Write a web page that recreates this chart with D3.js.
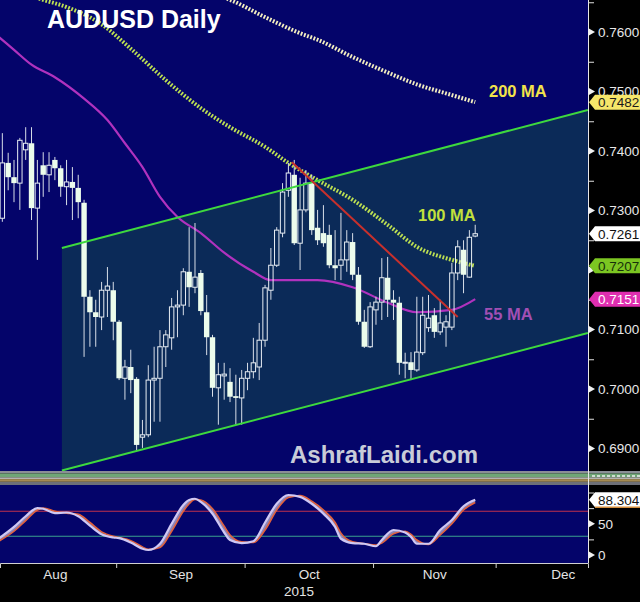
<!DOCTYPE html>
<html><head><meta charset="utf-8">
<script src="https://cdn.jsdelivr.net/npm/d3@7"></script>
<style>
html,body{margin:0;padding:0;background:#000;}
svg{display:block;}
text{font-family:"Liberation Sans",Arial,sans-serif;}
</style></head><body>
<svg id="c" width="640" height="602"></svg>
<script>
// ---------------- DATA ----------------
const tickPrices = [0.69,0.70,0.71,0.72,0.73,0.74,0.75,0.76];
const hiddenTickLabels = [0.72]; // covered by the 100 MA price box in the reference
const minorPrices = [0.6950,0.7050,0.7150,0.7250,0.7350,0.7450,0.7550,0.7650];
const monthNames = ["Aug","Sep","Oct","Nov","Dec"];
const yearLabel = "2015";

const open = [.7309,.7287,.7380,.7356,.7346,.7402,.7413,.7304,.7376,.7360,
.7385,.7371,.7340,.7348,.7338,.7313,.7155,.7129,.7121,.7166,
.7166,.7113,.7018,.7037,.7017,.6919,.6923,.7015,.7018,.7071,
.7086,.7138,.7141,.7197,.7171,.7195,.7129,.7087,.7002,.7022,
.7012,.6988,.6985,.7018,.7029,.7037,.7082,.7166,.7208,.7262,
.7334,.7360,.7245,.7301,.7346,.7271,.7262,.7259,.7208,.7208,
.7217,.7247,.7192,.7113,.7071,.7133,.7146,.7187,.7150,.7145,
.7044,.7045,.7032,.7061,.7103,.7124,.7096,.7104,.7104,.7195,
.7234,.7188,.7257];
const high = [.7430,.7430,.7397,.7385,.7422,.7440,.7440,.7385,.7398,.7398,
.7390,.7376,.7385,.7373,.7360,.7318,.7166,.7150,.7180,.7205,
.7180,.7116,.7049,.7066,.7020,.6948,.7040,.7071,.7099,.7099,
.7153,.7166,.7203,.7272,.7279,.7200,.7158,.7091,.7044,.7044,
.7035,.7024,.7032,.7044,.7086,.7111,.7175,.7237,.7272,.7346,
.7380,.7385,.7355,.7368,.7360,.7301,.7309,.7276,.7267,.7296,
.7267,.7262,.7205,.7133,.7146,.7155,.7220,.7222,.7166,.7155,
.7061,.7062,.7155,.7155,.7158,.7136,.7150,.7124,.7212,.7250,
.7250,.7267,.7276];
const low = [.7267,.7281,.7334,.7314,.7301,.7385,.7284,.7217,.7323,.7331,
.7351,.7323,.7309,.7284,.7287,.7054,.7071,.7071,.7099,.7121,
.7082,.7015,.6982,.6993,.6897,.6901,.6919,.6945,.6945,.7037,
.7066,.7087,.7124,.7138,.7161,.7124,.7057,.6987,.6940,.6982,
.6978,.6940,.6940,.6998,.7018,.7015,.7071,.7150,.7205,.7255,
.7323,.7242,.7200,.7297,.7259,.7242,.7239,.7203,.7183,.7183,
.7197,.7183,.7108,.7069,.7069,.7108,.7116,.7121,.7116,.7024,
.7018,.7015,.7029,.7057,.7096,.7086,.7091,.7071,.7099,.7183,
.7161,.7187,.7255];
const close = [.7287,.7380,.7356,.7346,.7418,.7413,.7304,.7346,.7360,.7376,
.7371,.7340,.7348,.7338,.7314,.7155,.7129,.7121,.7166,.7173,
.7113,.7018,.7037,.7015,.6906,.6923,.7015,.7018,.7071,.7091,
.7138,.7141,.7197,.7171,.7188,.7131,.7087,.7002,.7024,.7025,
.6987,.6985,.7018,.7029,.7044,.7082,.7170,.7208,.7267,.7331,
.7363,.7245,.7301,.7346,.7267,.7250,.7245,.7208,.7203,.7217,
.7247,.7192,.7113,.7071,.7138,.7146,.7187,.7150,.7145,.7044,
.7045,.7032,.7062,.7124,.7119,.7096,.7111,.7113,.7195,.7239,
.7192,.7255,.7261];

const ma200Idx = [30,36,40,46,52,55,61,67,72,78,82];
const ma200Val = [.7699,.7667,.7654,.7625,.7598,.7587,.7558,.7532,.7512,.7494,.7482];
const ma100Idx = [0,4,8,12,18,23,29,35,40,46,50,55,61,67,72,78,82];
const ma100Val = [.7677,.7666,.7654,.7642,.7613,.7572,.7519,.7472,.7440,.7407,.7380,.7351,.7318,.7276,.7239,.7217,.7207];
const ma55Idx = [0,3,6,10,15,19,22,25,28,31,35,39,44,47,52,55,61,67,72,78,82];
const ma55Val = [.7595,.7570,.7545,.7524,.7488,.7452,.7413,.7373,.7323,.7289,.7262,.7229,.7197,.7183,.7183,.7183,.7171,.7145,.7129,.7133,.7151];

const chanIdx = [11.2, 101.3];
const chanUpper = [.7237, .7469];
const chanLower = [.6863, .7094];
const redIdx = [50.6, 79];
const redVal = [.7381, .7121];

const oscIdx = [0,3,5,7,8,10,12,14,16,18,20,21,23,25,26,28,30,32,33,34,35,37,39,40,42,44,46,48,50,52,54,56,58,59,61,63,65,66,68,70,71,72,74,76,78,80,82];
const oscK = [24,45,62,75,74,67,68,62,47,33,28,27,20,10,8,18,50,80,88,90,85,66,36,24,19,22,52,82,96,93,82,66,45,26,19,18,14,24,40,36,29,18,18,40,56,78,88.304];
const oscD = [20,38,55,72,75,70,67,65,52,37,30,28,23,13,9,12,38,70,82,89,88,74,46,32,21,20,40,72,92,95,86,72,52,35,21,18,16,19,34,38,33,24,17,32,50,72,84];
const oscLevels = [70, 30];
const oscTicks = [0, 50];
const oscMinor = [25, 75, 100];

// trading days (categories)
const dates = d3.timeDay.range(new Date(2015,7,3), new Date(2016,0,1)).filter(d => d.getDay() % 6 !== 0);

// ---------------- LAYOUT ----------------
const PW = 588, MAIN_B = 471, OSC_T = 485, OSC_B = 563;
const NAVY = "#04046a", CHAN = "#0b2a58";

const x = d3.scaleLinear().domain([3.5/5.838, (PW+3.5)/5.838]).range([0, PW]);
const y = d3.scaleLinear().domain([0.69, 0.76]).range([448.5, 32]);
const yo = d3.scaleLinear().domain([0, 100]).range([555, 492.5]);

const svg = d3.select("#c");
const defs = svg.append("defs");
defs.append("clipPath").attr("id","cm").append("rect").attr("x",0).attr("y",0).attr("width",PW).attr("height",MAIN_B);
defs.append("clipPath").attr("id","co").append("rect").attr("x",0).attr("y",OSC_T).attr("width",PW).attr("height",OSC_B-OSC_T);

svg.append("rect").attr("width",640).attr("height",602).attr("fill","#000");

// ---------- main panel ----------
const main = svg.append("g").attr("clip-path","url(#cm)");
main.append("rect").attr("x",0).attr("y",0).attr("width",PW).attr("height",MAIN_B).attr("fill",NAVY);

// channel fill
main.append("path")
  .attr("d", d3.line()([[x(chanIdx[0]),y(chanUpper[0])],[x(chanIdx[1]),y(chanUpper[1])],[x(chanIdx[1]),y(chanLower[1])],[x(chanIdx[0]),y(chanLower[0])]]) + "Z")
  .attr("fill", CHAN);

// MAs
const maLine = d3.line().x(d=>x(d[0])).y(d=>y(d[1])).curve(d3.curveMonotoneX);
const ma200 = ma200Idx.map((k,i)=>[k,ma200Val[i]]);
const ma100 = ma100Idx.map((k,i)=>[k,ma100Val[i]]);
const ma55 = ma55Idx.map((k,i)=>[k,ma55Val[i]]);

main.append("path").attr("d",maLine(ma200)).attr("fill","none")
  .attr("stroke","#f3eec0").attr("stroke-width",4).attr("stroke-dasharray","1.8,1.6");
main.append("path").attr("d",maLine(ma100)).attr("fill","none")
  .attr("stroke","#bde052").attr("stroke-width",4).attr("stroke-dasharray","1.8,1.6");
main.append("path").attr("d",maLine(ma55)).attr("fill","none")
  .attr("stroke","#b032be").attr("stroke-width",2.2);

// candles
const bw = 4.4;
const cg = main.append("g");
d3.range(close.length).forEach(i => {
  const cx = x(i), o = open[i], c = close[i], h = high[i], l = low[i];
  const up = c >= o;
  const top = y(Math.max(o,c)), bot = y(Math.min(o,c));
  if (up) {
    cg.append("line").attr("x1",cx).attr("x2",cx).attr("y1",y(h)).attr("y2",top).attr("stroke","#d8dee8").attr("stroke-width",1);
    cg.append("line").attr("x1",cx).attr("x2",cx).attr("y1",bot).attr("y2",y(l)).attr("stroke","#d8dee8").attr("stroke-width",1);
    cg.append("rect").attr("x",cx-bw/2).attr("y",top).attr("width",bw).attr("height",Math.max(1,bot-top))
      .attr("fill","none").attr("stroke","#e8eef4").attr("stroke-width",1);
  } else {
    cg.append("line").attr("x1",cx).attr("x2",cx).attr("y1",y(h)).attr("y2",y(l)).attr("stroke","#d8dee8").attr("stroke-width",1);
    cg.append("rect").attr("x",cx-bw/2-0.5).attr("y",top).attr("width",bw+1).attr("height",Math.max(1.5,bot-top))
      .attr("fill","#ecfcec");
  }
});

// channel lines
const tl = d3.line().x(d=>x(d[0])).y(d=>y(d[1]));
main.append("path").attr("d",tl(chanIdx.map((k,i)=>[k,chanUpper[i]]))).attr("stroke","#3ed83e").attr("stroke-width",2).attr("fill","none");
main.append("path").attr("d",tl(chanIdx.map((k,i)=>[k,chanLower[i]]))).attr("stroke","#3ed83e").attr("stroke-width",2).attr("fill","none");
// red trendline
main.append("path").attr("d",tl(redIdx.map((k,i)=>[k,redVal[i]]))).attr("stroke","#c8302c").attr("stroke-width",2).attr("fill","none");

// texts
main.append("text").attr("x",47).attr("y",28).attr("fill","#fff").attr("font-size",25).attr("font-weight","bold").text("AUDUSD Daily");
main.append("text").attr("x",489).attr("y",97).attr("fill","#f2e34a").attr("font-size",16.5).attr("font-weight","bold").text("200 MA");
main.append("text").attr("x",418).attr("y",221).attr("fill","#c2e03c").attr("font-size",16.5).attr("font-weight","bold").text("100 MA");
main.append("text").attr("x",484).attr("y",320).attr("fill","#a24fb4").attr("font-size",16.5).attr("font-weight","bold").text("55 MA");
main.append("text").attr("x",290).attr("y",463).attr("fill","#c8ccd8").attr("font-size",24).attr("font-weight","bold").text("AshrafLaidi.com");

// ---------- separator strip ----------
const bands = [[471,2.5,"#8a8e96"],[473.5,3.8,"#6fa676"],[477.3,1.8,"#b4b4b0"],[479.1,2.7,"#a48a52"],[481.8,3.2,"#6e7078"]];
bands.forEach(b => svg.append("rect").attr("x",0).attr("y",b[0]).attr("width",640).attr("height",b[1]).attr("fill",b[2]));
svg.append("line").attr("x1",592).attr("x2",640).attr("y1",476).attr("y2",476).attr("stroke","#f0f0f0").attr("stroke-width",1.5).attr("stroke-dasharray","3,2");

// ---------- oscillator ----------
const osc = svg.append("g").attr("clip-path","url(#co)");
osc.append("rect").attr("x",0).attr("y",OSC_T).attr("width",PW).attr("height",OSC_B-OSC_T).attr("fill",NAVY);
osc.append("line").attr("x1",0).attr("x2",PW).attr("y1",yo(oscLevels[0])).attr("y2",yo(oscLevels[0])).attr("stroke","#c0304c").attr("stroke-width",1);
osc.append("line").attr("x1",0).attr("x2",PW).attr("y1",yo(oscLevels[1])).attr("y2",yo(oscLevels[1])).attr("stroke","#3aa08e").attr("stroke-width",1);
const oscPts = oscIdx.map((k,i)=>({k, K:oscK[i], D:oscD[i]}));
osc.append("path").datum(oscPts)
  .attr("d", d3.area().x(d=>x(d.k)).y0(d=>yo(d.D)).y1(d=>yo(d.K)).curve(d3.curveMonotoneX))
  .attr("fill","#a59cc8").attr("opacity",0.85);
osc.append("path").datum(oscPts)
  .attr("d", d3.line().x(d=>x(d.k)).y(d=>yo(d.D)).curve(d3.curveMonotoneX))
  .attr("fill","none").attr("stroke","#e0603c").attr("stroke-width",1.6);
osc.append("path").datum(oscPts)
  .attr("d", d3.line().x(d=>x(d.k)).y(d=>yo(d.K)).curve(d3.curveMonotoneX))
  .attr("fill","none").attr("stroke","#cfc8f4").attr("stroke-width",2.2);

// ---------- x axis ----------
const bounds = [], centers = [];
let start = 0;
for (let i = 1; i <= dates.length; i++) {
  if (i === dates.length || dates[i].getMonth() !== dates[i-1].getMonth()) {
    centers.push((start + i - 1) / 2);
    if (i < dates.length) bounds.push(i - 0.5);
    start = i;
  }
}
const xAxisG = svg.append("g").attr("transform",`translate(0,${OSC_B})`)
  .call(d3.axisBottom(x).tickValues(bounds).tickSize(5).tickFormat(""));
xAxisG.select(".domain").attr("stroke","#d0d0d0");
xAxisG.selectAll(".tick line").attr("stroke","#d0d0d0");
const xLab = svg.append("g").attr("transform",`translate(0,${OSC_B})`)
  .call(d3.axisBottom(x).tickValues(centers).tickSize(0).tickPadding(6).tickFormat((d,i)=>monthNames[i]));
xLab.select(".domain").remove();
xLab.selectAll("text").attr("fill","#e4e4e4").attr("font-size",13.5).attr("font-family","Liberation Sans, Arial, sans-serif");
svg.append("text").attr("x",299).attr("y",596).attr("text-anchor","middle").attr("fill","#e4e4e4").attr("font-size",13.5).text(yearLabel);

// ---------- right price axis ----------
svg.append("line").attr("x1",PW+0.5).attr("x2",PW+0.5).attr("y1",0).attr("y2",OSC_B).attr("stroke","#e8e8e8").attr("stroke-width",1);
const yAx = svg.append("g").attr("transform",`translate(${PW},0)`)
  .call(d3.axisRight(y).tickValues(tickPrices).tickSize(0).tickPadding(10)
    .tickFormat(d => hiddenTickLabels.includes(d) ? "" : d3.format(".4f")(d)));
yAx.select(".domain").remove();
yAx.selectAll("text").attr("fill","#e8e8e8").attr("font-size",13.5).attr("font-family","Liberation Sans, Arial, sans-serif");
tickPrices.forEach(p => svg.append("path").attr("d",`M${PW},${y(p)-4}L${PW+7},${y(p)}L${PW},${y(p)+4}Z`).attr("fill","#f0f0f0"));
const yMin = svg.append("g").attr("transform",`translate(${PW},0)`)
  .call(d3.axisRight(y).tickValues(minorPrices).tickSize(6).tickFormat(""));
yMin.select(".domain").remove();
yMin.selectAll(".tick line").attr("stroke","#e0e0e0");

// price boxes
function box(cy, fill, tcol, label){
  svg.append("path").attr("d",`M${PW+1},${cy}L${PW+7},${cy-7.5}L640,${cy-7.5}L640,${cy+7.5}L${PW+7},${cy+7.5}Z`).attr("fill",fill);
  svg.append("text").attr("x",PW+10).attr("y",cy+5).attr("fill",tcol).attr("font-size",13.5).text(label);
}
box(y(ma200Val[ma200Val.length-1]), "#f6e66a", "#1a1a1a", d3.format(".4f")(ma200Val[ma200Val.length-1]));
box(y(close[close.length-1]), "#ffffff", "#111", d3.format(".4f")(close[close.length-1]));
box(y(ma100Val[ma100Val.length-1]), "#7cc622", "#16300a", d3.format(".4f")(ma100Val[ma100Val.length-1]));
box(y(ma55Val[ma55Val.length-1]), "#e02eb0", "#ffffff", d3.format(".4f")(ma55Val[ma55Val.length-1]));

// ---------- oscillator axis ----------
const oAx = svg.append("g").attr("transform",`translate(${PW},0)`)
  .call(d3.axisRight(yo).tickValues(oscTicks).tickSize(0).tickPadding(10).tickFormat(d3.format("d")));
oAx.select(".domain").remove();
oAx.selectAll("text").attr("fill","#e8e8e8").attr("font-size",13.5).attr("font-family","Liberation Sans, Arial, sans-serif");
oscTicks.forEach(v => svg.append("path").attr("d",`M${PW},${yo(v)-4}L${PW+7},${yo(v)}L${PW},${yo(v)+4}Z`).attr("fill","#f0f0f0"));
const oMin = svg.append("g").attr("transform",`translate(${PW},0)`)
  .call(d3.axisRight(yo).tickValues(oscMinor).tickSize(6).tickFormat(""));
oMin.select(".domain").remove();
oMin.selectAll(".tick line").attr("stroke","#e0e0e0");
const lastK = oscK[oscK.length-1];
box(yo(lastK), "#ffffff", "#111", d3.format(".3f")(lastK));
svg.append("line").attr("x1",PW+7).attr("x2",640).attr("y1",yo(lastK)+7.5).attr("y2",yo(lastK)+7.5).attr("stroke","#d08a3a").attr("stroke-width",1.5);
</script>
</body></html>
